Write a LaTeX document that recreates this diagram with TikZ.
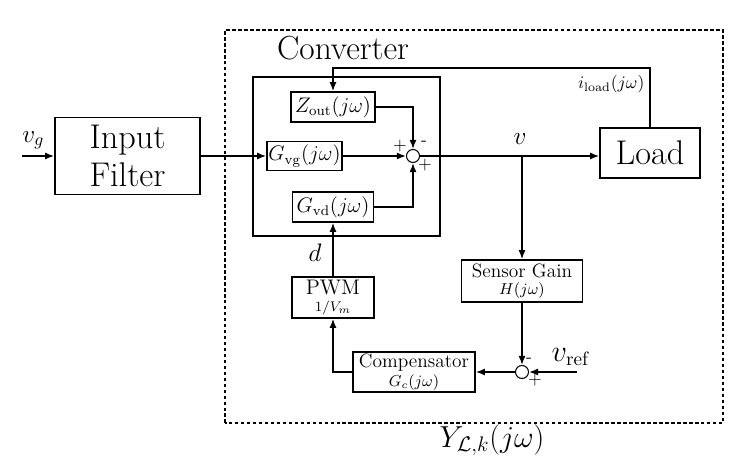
\documentclass[tikz,border=0pt]{standalone}
\usetikzlibrary{arrows.meta}
\begin{document}
\begin{tikzpicture}[>={Latex[length=1.8mm,width=1.4mm]},line width=0.9pt,
  blk/.style={draw,line width=0.9pt,inner sep=0pt,align=center},
  sumnode/.style={draw,semithick,circle,inner sep=0pt,minimum size=0.26cm},
  sgn/.style={font=\normalsize,inner sep=0pt}]
\useasboundingbox (0,0) rectangle (14.94,9.48);
% dashed outline and outer blocks
\draw[line width=0.9pt,dash pattern=on 2pt off 1.4pt] (4.5,1.02) rectangle (14.46,8.88);
\node[font=\fontsize{19}{23}\selectfont] (convlbl) at (6.86,8.52) {Converter};
\node[font=\fontsize{18.5}{22}\selectfont] (ylbl) at (9.84,0.68) {$Y_{\mathcal{L},k}(j\omega)$};
\node[blk,minimum width=2.9cm,minimum height=1.54cm,font=\fontsize{19.5}{22}\selectfont] (filt) at (2.55,6.36) {Input\\Filter};
\node[blk,minimum width=2cm,minimum height=1cm,font=\fontsize{19.5}{22}\selectfont] (load) at (13.0,6.42) {Load};
% converter internals
\node[blk,minimum width=3.74cm,minimum height=3.18cm] (conv) at (6.93,6.35) {};
\node[blk,minimum width=1.68cm,minimum height=0.6cm,font=\large] (zout) at (6.66,7.34) {$Z_{\mathrm{out}}(j\omega)$};
\node[blk,minimum width=1.5cm,minimum height=0.58cm,font=\large] (gvg) at (6.09,6.36) {$G_{\mathrm{vg}}(j\omega)$};
\node[blk,minimum width=1.62cm,minimum height=0.6cm,font=\large] (gvd) at (6.66,5.34) {$G_{\mathrm{vd}}(j\omega)$};
\node[sumnode] (sum) at (8.26,6.36) {};
\node[sgn] (sa) at (8.0,6.56) {$+$};
\node[sgn] (sb) at (8.48,6.62) {-};
\node[sgn] (sc) at (8.5,6.18) {$+$};
% control loop
\node[blk,minimum width=1.64cm,minimum height=0.82cm] (pwm) at (6.66,3.53) {\large PWM\\[-2pt] \footnotesize $1/V_m$};
\node[blk,minimum width=2.42cm,minimum height=0.84cm] (sens) at (10.44,3.86) {\fontsize{11}{13}\selectfont Sensor Gain\\[-2pt] \small $H(j\omega)$};
\node[blk,minimum width=2.44cm,minimum height=0.8cm] (comp) at (8.28,2.04) {\fontsize{11}{13}\selectfont Compensator\\[-1pt] \small $G_c(j\omega)$};
\node[sumnode] (sumb) at (10.44,2.04) {};
\node[sgn] (sd) at (10.58,2.28) {-};
\node[sgn] (se) at (10.7,1.88) {$+$};
% free ends
\coordinate (vgin) at (0.44,6.36);
\coordinate (br) at (10.44,6.36);
\coordinate (ftop) at (13.0,8.12);
\coordinate (vrin) at (11.54,2.04);
% connectors
\draw[->] (vgin) -- (filt.west) node[pos=0.35,above,font=\Large] {$v_g$};
\draw[->] (filt.east) -- (gvg.west);
\draw[->] (gvg.east) -- (sum.west);
\draw[->] (zout.east) -| (sum.north);
\draw[->] (gvd.east) -| (sum.south);
\draw[->] (sum.east) -- (load.west |- sum.east);
\node[font=\Large] (vlbl) at (10.4,6.7) {$v$};
\draw[->] (load.north) -- (ftop) -| (zout.north);
\node[anchor=east] (iload) at (13.02,7.8) {$i_{\mathrm{load}}(j\omega)$};
\draw[->] (br) -- (sens.north);
\draw[->] (sens.south) -- (sumb.north);
\draw[->] (vrin) -- (sumb.east);
\node[font=\fontsize{16}{19}\selectfont] (vref) at (11.42,2.34) {$v_{\mathrm{ref}}$};
\draw[->] (sumb.west) -- (comp.east);
\draw[->] (comp.west) -| (pwm.south);
\draw[->] (pwm.north) -- (gvd.south);
\node[font=\Large] (dlbl) at (6.3,4.42) {$d$};
\end{tikzpicture}
\end{document}
